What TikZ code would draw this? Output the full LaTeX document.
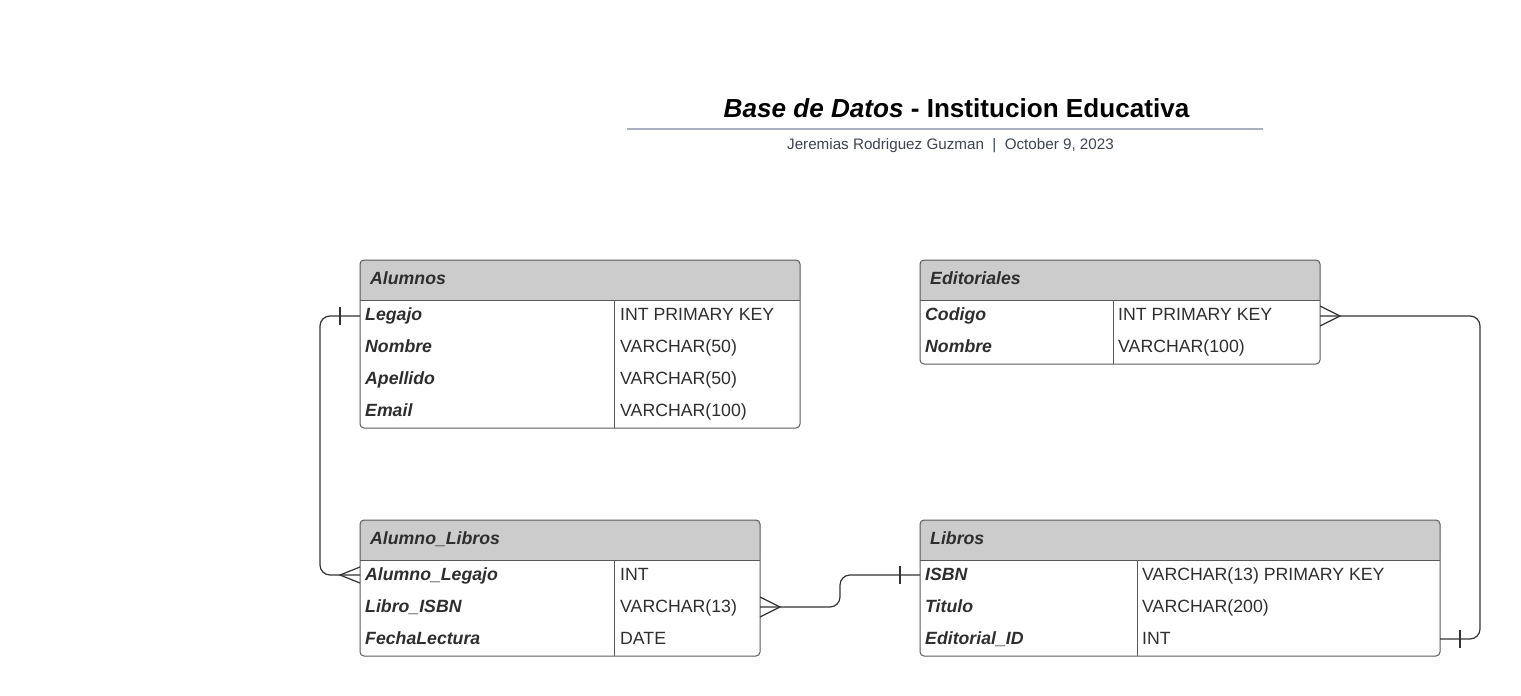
\documentclass[tikz,border=0pt]{standalone}
\usepackage{fontspec}
\setmainfont{Liberation Sans}
\usetikzlibrary{backgrounds}
\definecolor{hdrgray}{HTML}{CCCCCC}
\definecolor{tblline}{HTML}{5A5A5A}
\definecolor{relline}{HTML}{333333}
\definecolor{txt}{HTML}{2E2E2E}
\definecolor{subtxt}{HTML}{3D4450}
\definecolor{titleline}{HTML}{AAB0C0}
\tikzset{
  tbl/.style={draw=tblline, line width=1pt, rounded corners=4pt, inner sep=0pt, outer sep=0pt, anchor=north west},
  fname/.style={anchor=base west, font=\fontsize{17.7}{20}\selectfont\bfseries\itshape, text=txt, inner sep=0pt},
  ftype/.style={anchor=base west, font=\fontsize{17.7}{20}\selectfont, text=txt, inner sep=0pt},
  htitle/.style={anchor=base west, font=\fontsize{17.7}{20}\selectfont\bfseries\itshape, text=txt, inner sep=0pt},
  divider/.style={draw=tblline, line width=1pt},
  rel/.style={draw=relline, line width=1.2pt, rounded corners=10pt},
  relmk/.style={draw=relline, line width=1.2pt},
}
\begin{document}
\begin{tikzpicture}[x=1pt, y=-1pt]
\useasboundingbox (0,0) rectangle (1521,696);

% Title
\node[anchor=base, font=\fontsize{26.1}{30}\selectfont\bfseries, text=black, inner sep=0pt] (title) at (956.5,117) {\textit{Base de Datos} - Institucion Educativa};
\draw[titleline, line width=2pt] (627,129) -- (1263,129);
\node[anchor=base, font=\fontsize{15.2}{18}\selectfont, text=subtxt, inner sep=0pt] (subtitle) at (950.5,149) {Jeremias Rodriguez Guzman \ | \ October 9, 2023};

% ---------- Alumnos ----------
\node[tbl, minimum width=440pt, minimum height=168pt] (alumnos) at (360,260) {};
\begin{scope}[on background layer]
  \fill[hdrgray, rounded corners=4pt] (360,260) rectangle (800,300);
  \fill[hdrgray] (360,280) rectangle (800,300);
\end{scope}
\draw[divider] (360,300) -- (800,300);
\draw[divider] (614,300) -- (614,428);
\node[htitle] (alumnos-h) at (370,284) {Alumnos};
\node[fname] (a1n) at (365,320) {Legajo};
\node[ftype] (a1t) at (620,320) {INT PRIMARY KEY};
\node[fname] (a2n) at (365,352) {Nombre};
\node[ftype] (a2t) at (620,352) {VARCHAR(50)};
\node[fname] (a3n) at (365,384) {Apellido};
\node[ftype] (a3t) at (620,384) {VARCHAR(50)};
\node[fname] (a4n) at (365,416) {Email};
\node[ftype] (a4t) at (620,416) {VARCHAR(100)};

% ---------- Editoriales ----------
\node[tbl, minimum width=400pt, minimum height=104pt] (editoriales) at (920,260) {};
\begin{scope}[on background layer]
  \fill[hdrgray, rounded corners=4pt] (920,260) rectangle (1320,300);
  \fill[hdrgray] (920,280) rectangle (1320,300);
\end{scope}
\draw[divider] (920,300) -- (1320,300);
\draw[divider] (1113,300) -- (1113,364);
\node[htitle] (editoriales-h) at (930,284) {Editoriales};
\node[fname] (e1n) at (925,320) {Codigo};
\node[ftype] (e1t) at (1118,320) {INT PRIMARY KEY};
\node[fname] (e2n) at (925,352) {Nombre};
\node[ftype] (e2t) at (1118,352) {VARCHAR(100)};

% ---------- Alumno_Libros ----------
\node[tbl, minimum width=400pt, minimum height=136pt] (alumnolibros) at (360,520) {};
\begin{scope}[on background layer]
  \fill[hdrgray, rounded corners=4pt] (360,520) rectangle (760,560);
  \fill[hdrgray] (360,540) rectangle (760,560);
\end{scope}
\draw[divider] (360,560) -- (760,560);
\draw[divider] (614,560) -- (614,656);
\node[htitle] (alumnolibros-h) at (370,544) {Alumno\_Libros};
\node[fname] (b1n) at (365,580) {Alumno\_Legajo};
\node[ftype] (b1t) at (620,580) {INT};
\node[fname] (b2n) at (365,612) {Libro\_ISBN};
\node[ftype] (b2t) at (620,612) {VARCHAR(13)};
\node[fname] (b3n) at (365,644) {FechaLectura};
\node[ftype] (b3t) at (620,644) {DATE};

% ---------- Libros ----------
\node[tbl, minimum width=520pt, minimum height=136pt] (libros) at (920,520) {};
\begin{scope}[on background layer]
  \fill[hdrgray, rounded corners=4pt] (920,520) rectangle (1440,560);
  \fill[hdrgray] (920,540) rectangle (1440,560);
\end{scope}
\draw[divider] (920,560) -- (1440,560);
\draw[divider] (1137,560) -- (1137,656);
\node[htitle] (libros-h) at (930,544) {Libros};
\node[fname] (c1n) at (925,580) {ISBN};
\node[ftype] (c1t) at (1142,580) {VARCHAR(13) PRIMARY KEY};
\node[fname] (c2n) at (925,612) {Titulo};
\node[ftype] (c2t) at (1142,612) {VARCHAR(200)};
\node[fname] (c3n) at (925,644) {Editorial\_ID};
\node[ftype] (c3t) at (1142,644) {INT};

% ---------- Relationships ----------
% Alumnos.Legajo  1 --- N  Alumno_Libros.Alumno_Legajo
\coordinate (r1a) at ([yshift=4pt]alumnos.west |- a1n.base);
\coordinate (r1b) at ([yshift=5pt]alumnolibros.west |- b1n.base);
\draw[rel] (r1a) -- ++(-40pt,0) |- (r1b);
\draw[relmk] ([shift={(-20pt,9pt)}]r1a) -- ([shift={(-20pt,-9pt)}]r1a);
\draw[relmk] ([yshift=8pt]r1b) -- ([xshift=-20pt]r1b) -- ([yshift=-8pt]r1b);

% Alumno_Libros.Libro_ISBN  N --- 1  Libros.ISBN
\coordinate (r2a) at ([yshift=5pt]alumnolibros.east |- b2n.base);
\coordinate (r2b) at ([yshift=5pt]libros.west |- c1n.base);
\draw[rel] (r2a) -- ++(80pt,0) |- (r2b);
\draw[relmk] ([yshift=10pt]r2a) -- ([xshift=20pt]r2a) -- ([yshift=-10pt]r2a);
\draw[relmk] ([shift={(-20pt,9pt)}]r2b) -- ([shift={(-20pt,-9pt)}]r2b);

% Editoriales.Codigo  N --- 1  Libros.Editorial_ID
\coordinate (r3a) at ([yshift=4pt]editoriales.east |- e1n.base);
\coordinate (r3b) at ([yshift=5pt]libros.east |- c3n.base);
\draw[rel] (r3a) -- ++(160pt,0) |- (r3b);
\draw[relmk] ([yshift=10pt]r3a) -- ([xshift=20pt]r3a) -- ([yshift=-10pt]r3a);
\draw[relmk] ([shift={(20pt,9pt)}]r3b) -- ([shift={(20pt,-9pt)}]r3b);
\end{tikzpicture}
\end{document}
